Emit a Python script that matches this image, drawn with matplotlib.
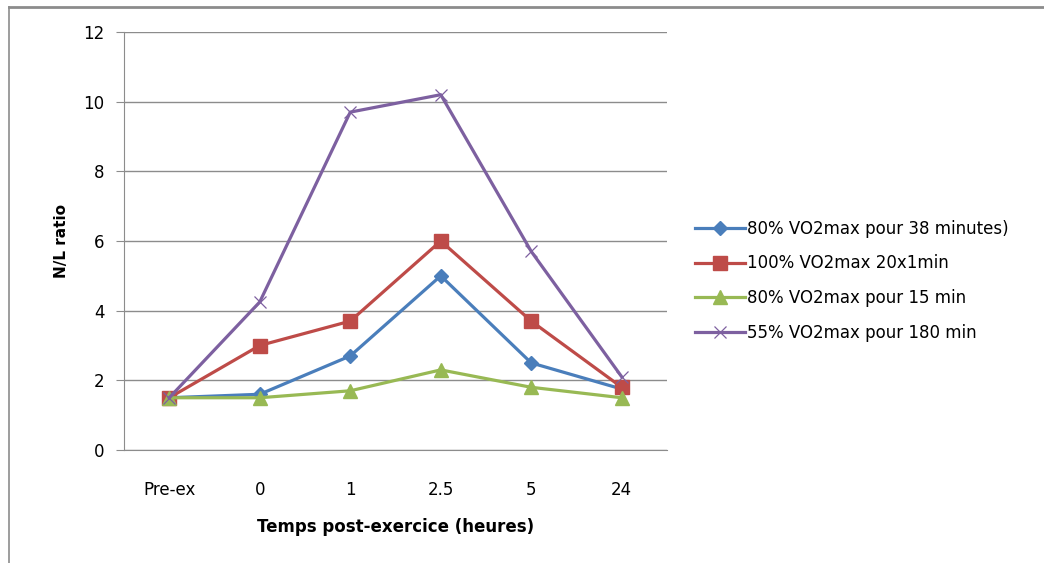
import matplotlib
matplotlib.use("Agg")
import matplotlib.pyplot as plt
from matplotlib.lines import Line2D

categories = ["Pre-ex", "0", "1", "2.5", "5", "24"]
series_names = [
    "80% VO2max pour 38 minutes)",
    "100% VO2max 20x1min",
    "80% VO2max pour 15 min",
    "55% VO2max pour 180 min",
]
blue_vals = [1.5, 1.6, 2.7, 5.0, 2.5, 1.75]
red_vals = [1.5, 3.0, 3.7, 6.0, 3.7, 1.8]
green_vals = [1.5, 1.5, 1.7, 2.3, 1.8, 1.5]
purple_vals = [1.5, 4.25, 9.7, 10.2, 5.7, 2.1]
y_ticks = [0, 2, 4, 6, 8, 10, 12]

plt.rcParams['font.family'] = ['DejaVu Sans']

fig = plt.figure(figsize=(10.44, 5.63), dpi=100)
ax = fig.add_axes([124/1044, 1-450/563, (667-124)/1044, (450-32)/563])

x = list(range(len(categories)))
styles = [
    dict(color="#4A7EBB", marker="D", markersize=7, lw=2.3),
    dict(color="#BE4B48", marker="s", markersize=10, lw=2.3),
    dict(color="#98B954", marker="^", markersize=10, lw=2.3),
    dict(color="#7D60A0", marker="x", markersize=8, lw=2.3, mew=0.9),
]
for vals, name, st in zip([blue_vals, red_vals, green_vals, purple_vals], series_names, styles):
    ax.plot(x, vals, label=name, color=st["color"], marker=st["marker"],
            markersize=st["markersize"], lw=st["lw"], mew=st.get("mew", 1.0),
            markeredgecolor=st["color"], markerfacecolor=st["color"])

ax.set_xlim(-0.5, len(categories) - 0.5)
ax.set_ylim(0, 12)
ax.set_yticks(y_ticks)
ax.set_xticks(x)
ax.set_xticklabels(categories)
ax.yaxis.grid(True, color="#8c8c8c", lw=1.0)
ax.set_axisbelow(True)
for s in ["top", "right"]:
    ax.spines[s].set_visible(False)
for s in ["left", "bottom"]:
    ax.spines[s].set_color("#8c8c8c")
ax.tick_params(axis="y", length=6, color="#8c8c8c", labelsize=12, pad=8)
ax.tick_params(axis="x", length=0, labelsize=12, pad=22)

ax.set_ylabel("N/L ratio", fontsize=11, fontweight="bold", labelpad=10)
ax.set_xlabel("Temps post-exercice (heures)", fontsize=12, fontweight="bold", labelpad=14)

leg = ax.legend(loc="center left", bbox_to_anchor=(1.04, 0.405), frameon=False,
                fontsize=12, handlelength=3.0, handletextpad=0.1, labelspacing=1.0,
                borderaxespad=0)

# chart area border (top and left)
fig.add_artist(Line2D([9/1044, 1.0], [1-7/563, 1-7/563], color="#8c8c8c", lw=2))
fig.add_artist(Line2D([9/1044, 9/1044], [0.0, 1-7/563], color="#8c8c8c", lw=1.2))

fig.savefig("out.png", dpi=100, facecolor="white")
